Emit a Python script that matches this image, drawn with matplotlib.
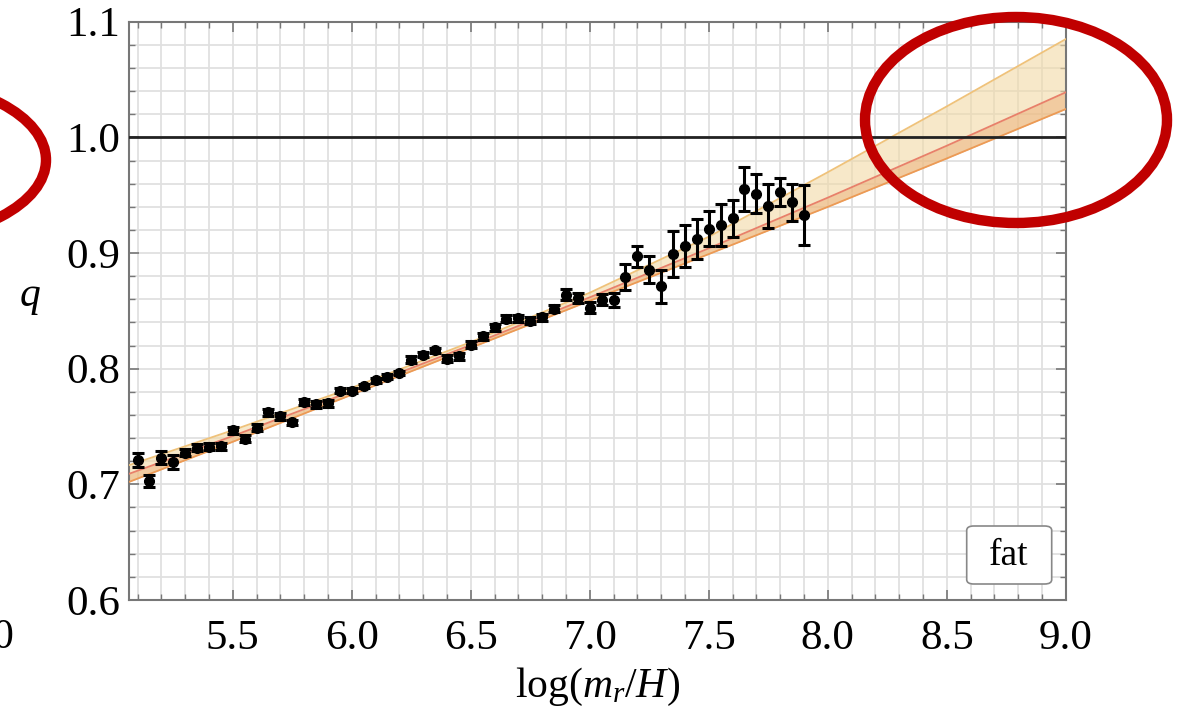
import numpy as np
import matplotlib.pyplot as plt
from matplotlib.patches import Ellipse, FancyBboxPatch
from matplotlib.ticker import MultipleLocator

plt.rcParams['font.family'] = 'Liberation Serif'
plt.rcParams['mathtext.fontset'] = 'custom'
plt.rcParams['mathtext.rm'] = 'Liberation Serif'
plt.rcParams['mathtext.it'] = 'Liberation Serif:italic'

# measured q at each log(m_r/H)
log_mr_H = [5.10, 5.15, 5.20, 5.25, 5.30, 5.35, 5.40, 5.45, 5.50, 5.55,
            5.60, 5.65, 5.70, 5.75, 5.80, 5.85, 5.90, 5.95, 6.00, 6.05,
            6.10, 6.15, 6.20, 6.25, 6.30, 6.35, 6.40, 6.45, 6.50, 6.55,
            6.60, 6.65, 6.70, 6.75, 6.80, 6.85, 6.90, 6.95, 7.00, 7.05,
            7.10, 7.15, 7.20, 7.25, 7.30, 7.35, 7.40, 7.45, 7.50, 7.55,
            7.60, 7.65, 7.70, 7.75, 7.80, 7.85, 7.90]
q_vals = [0.7208, 0.7027, 0.7232, 0.7194, 0.7275, 0.7315, 0.7324, 0.7330, 0.7468, 0.7396,
          0.7491, 0.7623, 0.7589, 0.7537, 0.7712, 0.7692, 0.7703, 0.7810, 0.7810, 0.7850,
          0.7900, 0.7930, 0.7963, 0.8079, 0.8122, 0.8159, 0.8087, 0.8107, 0.8208, 0.8280,
          0.8360, 0.8433, 0.8438, 0.8416, 0.8444, 0.8520, 0.8640, 0.8611, 0.8528, 0.8597,
          0.8597, 0.8793, 0.8971, 0.8857, 0.8712, 0.8991, 0.9060, 0.9121, 0.9211, 0.9245,
          0.9303, 0.9556, 0.9513, 0.9410, 0.9525, 0.9441, 0.9332]
q_err = [0.006, 0.005, 0.006, 0.006, 0.003, 0.003, 0.003, 0.003, 0.003, 0.003,
         0.003, 0.003, 0.003, 0.002, 0.003, 0.003, 0.003, 0.002, 0.002, 0.002,
         0.002, 0.002, 0.002, 0.003, 0.002, 0.002, 0.003, 0.003, 0.003, 0.003,
         0.003, 0.003, 0.003, 0.003, 0.003, 0.003, 0.005, 0.004, 0.005, 0.005,
         0.006, 0.011, 0.009, 0.012, 0.014, 0.020, 0.018, 0.017, 0.015, 0.018,
         0.016, 0.019, 0.017, 0.019, 0.012, 0.016, 0.026]

# fit curve and its uncertainty band
fit_x = [5.063, 5.5, 6.0, 6.5, 7.0, 7.5, 8.0, 8.5, 9.0]
fit_mid = [0.709, 0.7418, 0.7805, 0.8205, 0.8617, 0.9041, 0.9479, 0.9928, 1.039]
fit_hi = [0.7165, 0.7468, 0.7835, 0.8230, 0.8657, 0.9141, 0.9699, 1.0268, 1.085]
fit_lo = [0.702, 0.7368, 0.7775, 0.8180, 0.8587, 0.8991, 0.9399, 0.9818, 1.0245]

fig = plt.figure(figsize=(11.83, 7.25), dpi=100)
ax = fig.add_axes([0.1088, 0.1724, 0.7921, 0.7976])

ax.fill_between(fit_x, fit_lo, fit_hi, color='#f2d9a6', alpha=0.6, lw=0, zorder=2)
ax.fill_between(fit_x, fit_lo, fit_mid, color='#eba86e', alpha=0.45, lw=0, zorder=2)
ax.plot(fit_x, fit_hi, color='#efc27a', lw=1.3, zorder=3)
ax.plot(fit_x, fit_lo, color='#ec9a55', lw=1.3, zorder=3)
ax.plot(fit_x, fit_mid, color='#e8806a', lw=1.3, zorder=3)

ax.axhline(1.0, color='#222222', lw=2, zorder=3)

ax.errorbar(log_mr_H, q_vals, yerr=q_err, fmt='o', color='black', ms=7,
            elinewidth=2.2, capsize=4, capthick=2.2, zorder=4)

ax.set_xlim(5.063, 9.0)
ax.set_ylim(0.6, 1.1)
ax.xaxis.set_major_locator(MultipleLocator(0.5))
ax.xaxis.set_minor_locator(MultipleLocator(0.1))
ax.yaxis.set_major_locator(MultipleLocator(0.1))
ax.yaxis.set_minor_locator(MultipleLocator(0.02))
ax.set_xticks([5.5, 6.0, 6.5, 7.0, 7.5, 8.0, 8.5, 9.0])
ax.set_xticklabels(['5.5', '6.0', '6.5', '7.0', '7.5', '8.0', '8.5', '9.0'])
ax.set_yticklabels(['%.1f' % v for v in ax.get_yticks()])

ax.grid(which='both', color='#e0e0e0', lw=1.3, zorder=0)
ax.set_axisbelow(True)
ax.tick_params(which='both', direction='in', top=True, right=True,
               color='#777777', labelsize=31)
ax.tick_params(axis='x', which='major', pad=14)
ax.tick_params(axis='y', which='major', pad=6)
ax.tick_params(which='major', length=7, width=1.2)
ax.tick_params(which='minor', length=4, width=1.0)
for sp in ax.spines.values():
    sp.set_color('#777777')
    sp.set_linewidth(1.5)

ax.set_xlabel(r'$\mathrm{log}(m_r/H)$', fontsize=30, labelpad=6)
fig.text(30 / 1183, 1 - 298 / 725, r'$q$', fontsize=30, ha='center', va='center')

box = FancyBboxPatch((966.7 / 1183, 1 - 584 / 725), 85 / 1183, 58 / 725,
                     boxstyle='round,pad=0,rounding_size=0.006',
                     transform=fig.transFigure, facecolor='white',
                     edgecolor='#888888', lw=1.2, zorder=5)
fig.add_artist(box)
fig.text(1009 / 1183, 1 - 556 / 725, 'fat', fontsize=27, ha='center',
         va='center', zorder=6)

# red highlight ellipses
fig.add_artist(Ellipse((1016 / 1183, 1 - 120 / 725), 302 / 1183, 206 / 725,
                       transform=fig.transFigure, fill=False,
                       edgecolor='#c00000', lw=7.5, zorder=7))
fig.add_artist(Ellipse((-108 / 1183, 1 - 160 / 725), 308 / 1183, 160 / 725,
                       transform=fig.transFigure, fill=False,
                       edgecolor='#c00000', lw=7.5, zorder=7))

fig.text(-8 / 1183, 1 - 638 / 725, '0', fontsize=30, ha='left', va='center')

fig.savefig('out.png', dpi=100)
